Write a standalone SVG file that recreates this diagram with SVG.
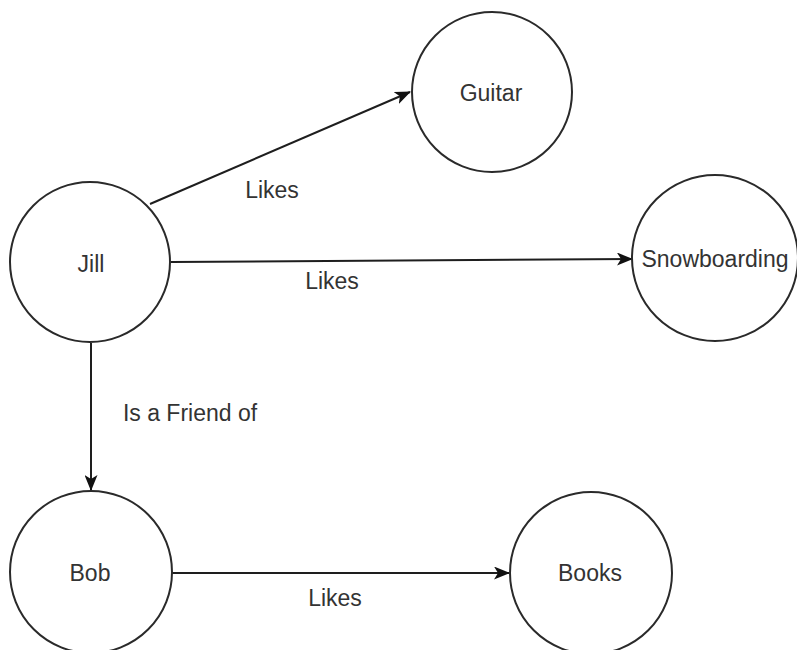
<svg xmlns="http://www.w3.org/2000/svg" width="797" height="650" viewBox="0 0 797 650">
<style>
.node{fill:#fff;stroke:#2a2a2a;stroke-width:2}
.lbl{font-family:"Liberation Sans",Arial,sans-serif;font-size:23px;fill:#333;text-anchor:middle}
.edge{fill:none;stroke:#1e1e1e;stroke-width:2}
</style>
<defs>
<marker id="arr" viewBox="0 0 16 13" refX="15" refY="6.5" markerWidth="16" markerHeight="13" markerUnits="userSpaceOnUse" orient="auto">
<path d="M0,0 L16,6.5 L0,13 L4,6.5 Z" fill="#111"/>
</marker>
</defs>
<rect width="797" height="650" fill="#fff"/>
<g id="connectors">
<line class="edge" x1="150" y1="204" x2="410" y2="92" marker-end="url(#arr)"/>
<line class="edge" x1="171" y1="262" x2="632" y2="259" marker-end="url(#arr)"/>
<line class="edge" x1="91" y1="343" x2="91" y2="490" marker-end="url(#arr)"/>
<line class="edge" x1="172" y1="573" x2="509" y2="573" marker-end="url(#arr)"/>
<text class="lbl" x="272" y="198">Likes</text>
<text class="lbl" x="332" y="289">Likes</text>
<text class="lbl" x="190" y="421">Is a Friend of</text>
<text class="lbl" x="335" y="606">Likes</text>
</g>
<g id="jill"><circle class="node" cx="90" cy="262" r="80"/><text class="lbl" x="91" y="272">Jill</text></g>
<g id="guitar"><circle class="node" cx="492" cy="92" r="80"/><text class="lbl" x="491" y="101">Guitar</text></g>
<g id="snowboarding"><circle class="node" cx="715" cy="258" r="83"/><text class="lbl" x="715" y="267">Snowboarding</text></g>
<g id="bob"><circle class="node" cx="91" cy="572" r="81"/><text class="lbl" x="90" y="581">Bob</text></g>
<g id="books"><circle class="node" cx="591" cy="573" r="81"/><text class="lbl" x="590" y="581">Books</text></g>
</svg>
